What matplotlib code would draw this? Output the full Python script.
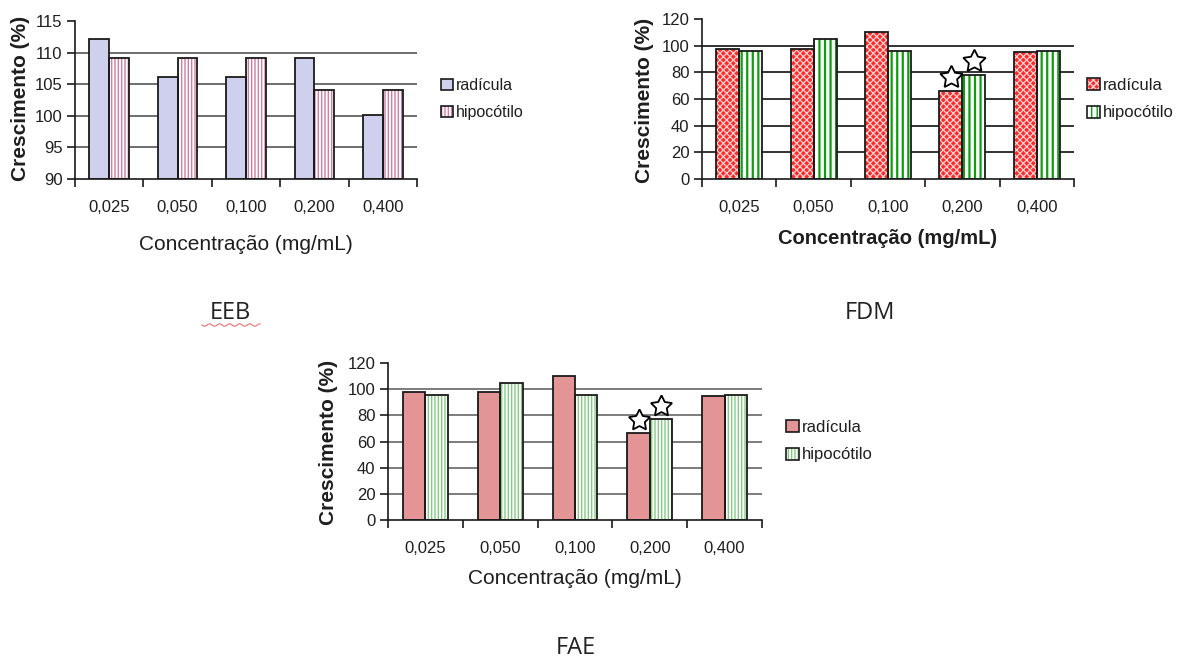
import matplotlib
matplotlib.use('Agg')
import matplotlib.pyplot as plt
import numpy as np
from matplotlib.patches import Patch
from matplotlib.lines import Line2D
from matplotlib.legend_handler import HandlerTuple

# ---------------- data ----------------
categories = ['0,025', '0,050', '0,100', '0,200', '0,400']
series_names = ['radícula', 'hipocótilo']

eeb_radicula = [112.2, 106.1, 106.1, 109.2, 100.1]
eeb_hipocotilo = [109.2, 109.2, 109.2, 104.1, 104.1]

fdm_radicula = [97.3, 97.3, 110.2, 66.2, 95.0]
fdm_hipocotilo = [96.0, 104.8, 96.0, 77.7, 96.0]

fae_radicula = [97.5, 97.5, 109.7, 66.4, 94.4]
fae_hipocotilo = [95.2, 104.7, 95.2, 77.3, 95.2]

eeb_yticks = [90, 95, 100, 105, 110, 115]
pct_yticks = [0, 20, 40, 60, 80, 100, 120]

star_category = 3            # index of '0,200'
fdm_star_y = [76.5, 88.7]    # radícula, hipocótilo
fae_star_y = [76.4, 87.4]

panel_titles = ['EEB', 'FDM', 'FAE']
ylabel_text = 'Crescimento (%)'
xlabel_text = 'Concentração (mg/mL)'

# ---------------- figure ----------------
plt.rcParams['font.family'] = ['Liberation Sans', 'DejaVu Sans']
W, H = 1188, 661
fig = plt.figure(figsize=(W / 100, H / 100), dpi=100)
fig.patch.set_facecolor('white')

TXT = '#1e1e1e'
EDGE = '#1a1a1a'


def px_rect(left, right, top, bottom):
    return [left / W, 1 - bottom / H, (right - left) / W, (bottom - top) / H]


def draw_panel(rect, rad, hip, yticks, styles, bar_w, grid_color,
               xlabel_bold, xlabel_dy, ylabel_xy, legend_xy, legend_fs,
               stars=None, star_ms=16):
    ax = fig.add_axes(px_rect(*rect))
    n = len(categories)
    x = np.arange(n) + 0.5
    handles = []
    for vals, offs, st in zip([rad, hip], [-bar_w / 2, bar_w / 2], styles):
        with plt.rc_context({'hatch.linewidth': st['hlw']}):
            ax.bar(x + offs, [v - yticks[0] for v in vals], bar_w, bottom=yticks[0],
                   color=st['face'], hatch=st['hatch'], edgecolor=st['hcol'],
                   linewidth=0, zorder=2)
            h1 = Patch(facecolor=st['face'], hatch=st['hatch'], edgecolor=st['hcol'], linewidth=0)
        ax.bar(x + offs, [v - yticks[0] for v in vals], bar_w, bottom=yticks[0],
               fill=False, edgecolor=EDGE, linewidth=1.3, zorder=3)
        h2 = Patch(fill=False, edgecolor=EDGE, linewidth=1.2)
        handles.append((h1, h2))

    ax.set_xlim(0, n)
    ax.set_ylim(yticks[0], yticks[-1])
    ax.set_yticks(yticks)
    ax.set_xticks(x)
    ax.set_xticklabels(categories)
    ax.set_xticks(np.arange(n + 1), minor=True)
    ax.tick_params(axis='x', which='major', length=0, pad=15, labelsize=12, labelcolor=TXT)
    ax.tick_params(axis='x', which='minor', length=6, width=1.2, direction='out', color=EDGE)
    ax.tick_params(axis='y', which='major', length=6, width=1.2, direction='out',
                   color=EDGE, labelsize=12, labelcolor=TXT, pad=3)

    for s in ['top', 'right']:
        ax.spines[s].set_visible(False)
    for s in ['left', 'bottom']:
        ax.spines[s].set_color(EDGE)
        ax.spines[s].set_linewidth(1.2)

    ax.set_axisbelow(True)
    ax.yaxis.grid(True, color=grid_color, linewidth=1.2)
    gl = ax.get_ygridlines()
    gl[-1].set_visible(False)
    gl[0].set_visible(False)

    if stars is not None:
        for offs, sy in zip([-bar_w / 2, bar_w / 2], stars):
            ax.plot([x[star_category] + offs], [sy], marker=(5, 1, 0), ms=star_ms,
                    mfc='white', mec='black', mew=1.3, zorder=5, linestyle='none')

    ax.set_xlabel(xlabel_text, fontsize=14.5 if xlabel_bold else 15,
                  fontweight='bold' if xlabel_bold else 'normal', color=TXT)
    ax.xaxis.label.set_va('center')
    ax.xaxis.set_label_coords(0.5, -xlabel_dy / (rect[3] - rect[2]))

    fig.text(ylabel_xy[0] / W, 1 - ylabel_xy[1] / H, ylabel_text, rotation=90,
             ha='center', va='center', fontsize=15, fontweight='bold', color=TXT)

    leg = fig.legend(handles, series_names, loc='upper left',
                     bbox_to_anchor=(legend_xy[0] / W, 1 - legend_xy[1] / H),
                     frameon=False, fontsize=legend_fs, handlelength=0.75,
                     handleheight=0.75, handletextpad=0.2, labelspacing=0.75,
                     borderaxespad=0, borderpad=0,
                     handler_map={tuple: HandlerTuple(ndivide=1, pad=0)})
    for t in leg.get_texts():
        t.set_color(TXT)
    return ax


eeb_styles = [dict(face='#cfcfee', hatch='', hcol='#cfcfee', hlw=1.0),
              dict(face='white', hatch='|||||', hcol='#cf7f9f', hlw=1.0)]
fdm_styles = [dict(face='#ff2b2b', hatch='xxxxx', hcol='#ffd0d0', hlw=0.9),
              dict(face='white', hatch='|||', hcol='#109a10', hlw=1.6)]
fae_styles = [dict(face='#e39494', hatch='', hcol='#e39494', hlw=1.0),
              dict(face='white', hatch='|||||', hcol='#86c986', hlw=1.0)]

# EEB (left, right, top, bottom) in pixels
draw_panel((75, 417, 21, 179), eeb_radicula, eeb_hipocotilo, eeb_yticks, eeb_styles,
           0.29, '#555555', False, 65, (21, 98), (441, 78), 11.5)
# FDM
draw_panel((702, 1074, 19, 179), fdm_radicula, fdm_hipocotilo, pct_yticks, fdm_styles,
           0.31, '#111111', True, 59, (645, 100), (1087, 78), 12,
           stars=fdm_star_y, star_ms=17)
# FAE
draw_panel((388, 762, 363, 520), fae_radicula, fae_hipocotilo, pct_yticks, fae_styles,
           0.30, '#666666', False, 59, (328, 442), (786, 420), 12,
           stars=fae_star_y, star_ms=16)

# panel captions
cap_font = ['Open Sans', 'DejaVu Sans']
for name, (cx, cy) in zip(panel_titles, [(230, 313), (870, 313), (576, 648)]):
    fig.text(cx / W, 1 - cy / H, name, ha='center', va='center', fontsize=17,
             family=cap_font, color='#222222')

# spell-check squiggle under "EEB"
sx = np.linspace(202, 260, 60)
sy = 325 + 1.2 * np.sin((sx - 202) / 1.6)
fig.add_artist(Line2D(sx / W, 1 - sy / H, transform=fig.transFigure,
                      color='#e07070', linewidth=0.8))

fig.savefig('out.png', dpi=100, facecolor='white')
